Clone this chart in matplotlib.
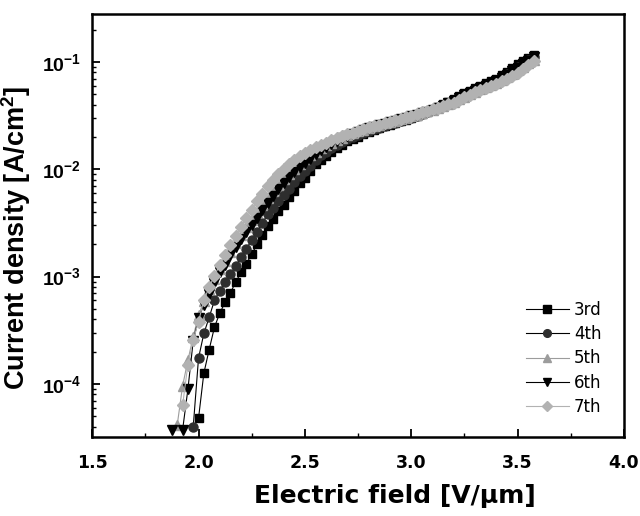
import numpy as np
import matplotlib
matplotlib.use("Agg")
import matplotlib.pyplot as plt
from matplotlib.ticker import LogLocator, FixedLocator, FuncFormatter, NullFormatter

plt.rcParams['font.family'] = ['Liberation Sans', 'DejaVu Sans']
plt.rcParams['mathtext.fontset'] = 'custom'
plt.rcParams['mathtext.rm'] = 'Liberation Sans:bold'
plt.rcParams['mathtext.it'] = 'Liberation Sans:bold'
plt.rcParams['mathtext.bf'] = 'Liberation Sans:bold'

nan = np.nan
# Electric field grid [V/um]
field = [1.850, 1.875, 1.900, 1.925, 1.950, 1.975, 2.000, 2.025, 2.050, 2.075,
         2.100, 2.125, 2.150, 2.175, 2.200, 2.225, 2.250, 2.275, 2.300, 2.325,
         2.350, 2.375, 2.400, 2.425, 2.450, 2.475, 2.500, 2.525, 2.550, 2.575,
         2.600, 2.625, 2.650, 2.675, 2.700, 2.725, 2.750, 2.775, 2.800, 2.825,
         2.850, 2.875, 2.900, 2.925, 2.950, 2.975, 3.000, 3.025, 3.050, 3.075,
         3.100, 3.125, 3.150, 3.175, 3.200, 3.225, 3.250, 3.275, 3.300, 3.325,
         3.350, 3.375, 3.400, 3.425, 3.450, 3.475, 3.500, 3.525, 3.550, 3.575]

# log10 of current density [A/cm^2]
log_j_3rd = [nan, nan, nan, nan, nan, nan, -4.32, -3.90, -3.68, -3.47,
             -3.34, -3.24, -3.15, -3.05, -2.96, -2.88, -2.79, -2.70, -2.61, -2.53,
             -2.46, -2.39, -2.33, -2.26, -2.20, -2.13, -2.08, -2.02, -1.955, -1.915,
             -1.875, -1.835, -1.80, -1.77, -1.74, -1.715, -1.695, -1.675, -1.655, -1.635,
             -1.618, -1.60, -1.585, -1.57, -1.553, -1.537, -1.52, -1.503, -1.485, -1.465,
             -1.445, -1.42, -1.395, -1.37, -1.343, -1.316, -1.29, -1.267, -1.245, -1.223,
             -1.20, -1.18, -1.158, -1.125, -1.09, -1.055, -1.02, -0.99, -0.96, -0.935]
log_j_4th = [nan, nan, nan, nan, nan, -4.40, -3.76, -3.53, -3.38, -3.22,
             -3.13, -3.05, -2.98, -2.90, -2.82, -2.74, -2.66, -2.58, -2.50, -2.42,
             -2.36, -2.30, -2.24, -2.18, -2.12, -2.065, -2.015, -1.965, -1.91, -1.87,
             -1.835, -1.80, -1.77, -1.745, -1.72, -1.70, -1.68, -1.662, -1.645, -1.628,
             -1.612, -1.596, -1.58, -1.565, -1.55, -1.535, -1.52, -1.503, -1.487, -1.47,
             -1.452, -1.432, -1.41, -1.387, -1.362, -1.337, -1.312, -1.29, -1.267, -1.245,
             -1.224, -1.204, -1.18, -1.15, -1.117, -1.083, -1.05, -1.018, -0.985, -0.955]
log_j_5th = [nan, nan, -4.38, -4.02, -3.78, -3.56, -3.36, -3.23, -3.12, -3.02,
             -2.93, -2.85, -2.77, -2.69, -2.61, -2.54, -2.47, -2.40, -2.33, -2.265,
             -2.205, -2.15, -2.095, -2.045, -1.995, -1.948, -1.905, -1.868, -1.835, -1.805,
             -1.777, -1.752, -1.728, -1.705, -1.685, -1.665, -1.647, -1.63, -1.615, -1.60,
             -1.586, -1.573, -1.56, -1.546, -1.532, -1.518, -1.504, -1.49, -1.475, -1.46,
             -1.444, -1.428, -1.41, -1.39, -1.37, -1.347, -1.323, -1.30, -1.277, -1.255,
             -1.234, -1.214, -1.194, -1.167, -1.138, -1.108, -1.077, -1.045, -1.012, -0.978]
log_j_6th = [nan, -4.43, nan, -4.43, -4.05, -3.60, -3.39, -3.26, -3.16, -3.06,
             -2.96, -2.89, -2.80, -2.72, -2.65, -2.585, -2.52, -2.45, -2.38, -2.31,
             -2.245, -2.185, -2.125, -2.07, -2.025, -1.98, -1.94, -1.90, -1.855, -1.82,
             -1.79, -1.76, -1.735, -1.71, -1.69, -1.67, -1.652, -1.636, -1.62, -1.605,
             -1.59, -1.577, -1.564, -1.55, -1.536, -1.522, -1.508, -1.493, -1.478, -1.462,
             -1.446, -1.428, -1.408, -1.386, -1.362, -1.337, -1.312, -1.29, -1.268, -1.246,
             -1.225, -1.205, -1.182, -1.153, -1.12, -1.087, -1.053, -1.02, -0.988, -0.958]
log_j_7th = [nan, nan, nan, -4.20, -3.82, -3.59, -3.42, -3.22, -3.10, -2.99,
             -2.89, -2.80, -2.71, -2.62, -2.535, -2.455, -2.375, -2.30, -2.23, -2.16,
             -2.10, -2.045, -1.995, -1.95, -1.91, -1.875, -1.845, -1.82, -1.795, -1.773,
             -1.752, -1.732, -1.712, -1.693, -1.675, -1.658, -1.64, -1.625, -1.61, -1.597,
             -1.584, -1.572, -1.56, -1.545, -1.53, -1.515, -1.50, -1.485, -1.47, -1.455,
             -1.44, -1.425, -1.41, -1.395, -1.378, -1.355, -1.33, -1.306, -1.283, -1.26,
             -1.24, -1.22, -1.205, -1.18, -1.155, -1.13, -1.10, -1.065, -1.03, -0.995]

labels = ['3rd', '4th', '5th', '6th', '7th']
series = [log_j_3rd, log_j_4th, log_j_5th, log_j_6th, log_j_7th]
markers = ['s', 'o', '^', 'v', 'D']
mcolors = ['#000000', '#2e2e2e', '#9c9c9c', '#000000', '#b2b2b2']
lcolors = ['#000000', '#000000', '#9c9c9c', '#000000', '#b2b2b2']
msizes = [6.0, 6.5, 6.5, 6.5, 5.8]

fig = plt.figure(figsize=(6.4, 5.16), dpi=100)
ax = fig.add_axes([0.144, 0.153, 0.831, 0.820])

x = np.array(field)
for lab, s, m, mc, lc, ms in zip(labels, series, markers, mcolors, lcolors, msizes):
    y = 10 ** np.array(s)
    ax.plot(x, y, color=lc, lw=0.8, marker=m, markersize=ms,
            markerfacecolor=mc, markeredgecolor=mc, label=lab)

ax.set_yscale('log')
ax.set_xlim(1.5, 4.0)
ax.set_ylim(3.2e-5, 0.28)

ax.xaxis.set_major_locator(FixedLocator([1.5, 2.0, 2.5, 3.0, 3.5, 4.0]))
ax.xaxis.set_minor_locator(FixedLocator([1.75, 2.25, 2.75, 3.25, 3.75]))
ax.xaxis.set_major_formatter(FuncFormatter(lambda v, p: f'{v:.1f}'))
ax.yaxis.set_major_locator(FixedLocator([1e-4, 1e-3, 1e-2, 1e-1]))
ax.yaxis.set_minor_locator(LogLocator(base=10, subs=np.arange(2, 10)))
ax.yaxis.set_minor_formatter(NullFormatter())
ax.yaxis.set_major_formatter(FuncFormatter(
    lambda v, p: r'$\mathbf{10^{%d}}$' % int(round(np.log10(v)))))

ax.tick_params(which='both', direction='in', top=False, right=False)
ax.tick_params(which='major', length=6, width=1.3)
ax.tick_params(which='minor', length=3, width=1.0)
ax.tick_params(axis='x', which='major', pad=12)
ax.tick_params(axis='y', which='major', pad=8, labelsize=14)
for lbl in ax.get_xticklabels():
    lbl.set_fontfamily('DejaVu Sans')
    lbl.set_fontweight('bold')
    lbl.set_fontsize(12.5)
for sp in ax.spines.values():
    sp.set_linewidth(1.8)

ax.set_xlabel('Electric field [V/μm]', fontsize=18, fontweight='bold',
              family='DejaVu Sans')
ax.xaxis.set_label_coords(0.57, -0.112)
ax.set_ylabel(r'Current density [A/cm$^\mathbf{2}$]', fontsize=19.5, fontweight='bold')
ax.yaxis.set_label_coords(-0.112, 0.47)

ax.legend(loc='upper left', bbox_to_anchor=(0.815, 0.322), frameon=False,
          prop={'family': 'DejaVu Sans', 'size': 12}, handlelength=2.6,
          handletextpad=0.3, labelspacing=0.38, borderaxespad=0.0, borderpad=0.0,
          markerscale=0.85)

fig.savefig('out.png', dpi=100)
